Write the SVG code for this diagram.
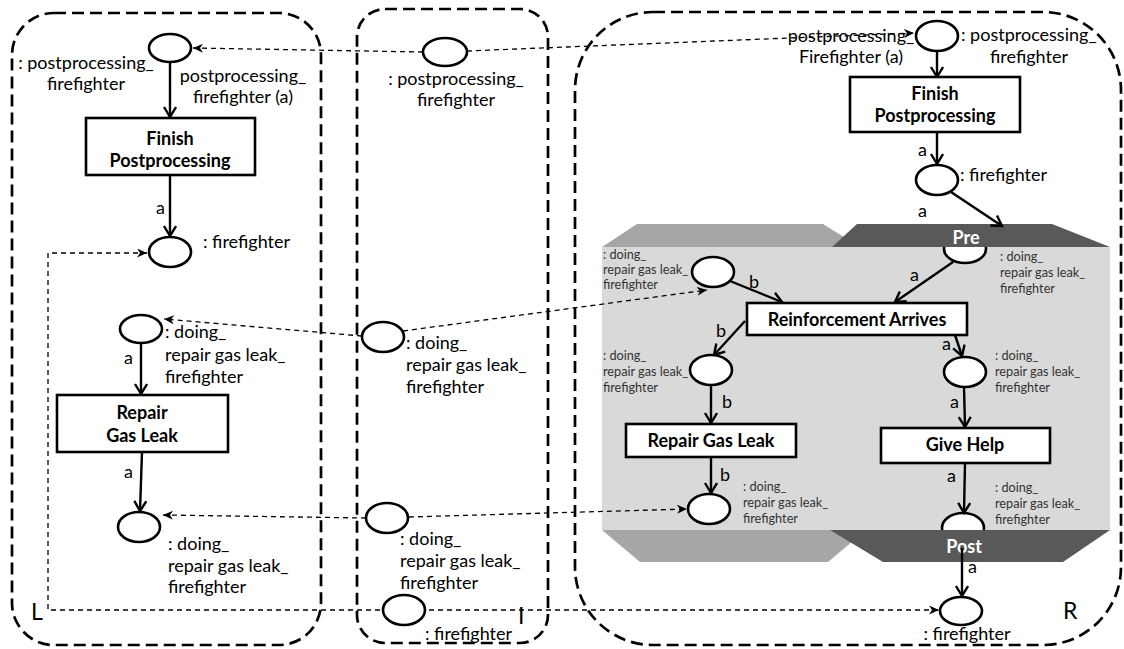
<svg xmlns="http://www.w3.org/2000/svg" width="1124" height="649" viewBox="0 0 1124 649">
<defs>
<marker id="ah" markerUnits="userSpaceOnUse" markerWidth="16" markerHeight="16" refX="11" refY="7" orient="auto">
<path d="M1,1 L11,7 L1,13" fill="none" stroke="#000" stroke-width="2.4"/>
</marker>
<marker id="dh" markerUnits="userSpaceOnUse" markerWidth="12" markerHeight="12" refX="10" refY="4.5" orient="auto-start-reverse">
<path d="M0,0 L10,4.5 L0,9 L3,4.5 z" fill="#000"/>
</marker>
<style>
.panel{fill:none;stroke:#000;stroke-width:2.7;stroke-dasharray:12 6}
.place{fill:#fff;stroke:#000;stroke-width:2.6}
.trans{fill:#fff;stroke:#000;stroke-width:2.6}
.arc{fill:none;stroke:#000;stroke-width:2.4;marker-end:url(#ah)}
.dash{fill:none;stroke:#000;stroke-width:1.3;stroke-dasharray:5 4}
.dash-end{marker-end:url(#dh)}
text{font-family:Lato,Carlito,"Liberation Sans",sans-serif;font-size:18px;fill:#000}
.c{text-anchor:middle}
.b{font-weight:bold}
.s{font-size:12.7px;fill:#333}
.big{font-size:23px}
.w{fill:#fff;font-weight:bold}
</style>
</defs>

<g id="panels">
<rect class="panel" x="12" y="13" width="309" height="632" rx="42"/>
<rect class="panel" x="357" y="9" width="191" height="634" rx="28"/>
<rect class="panel" x="575" y="12" width="546" height="633" rx="78"/>
</g>

<g id="rule-region">
<rect x="602" y="247" width="508" height="283" fill="#d9d9d9"/>
<polygon points="602,247 637,224 823,224 860,247" fill="#a6a6a6"/>
<polygon points="602,530 866,530 828,562 640,562" fill="#a6a6a6"/>
</g>

<g id="r-pre-place"><ellipse class="place" cx="965" cy="249" rx="21" ry="14"/></g>
<g id="r-post-place"><ellipse class="place" cx="963" cy="528" rx="21" ry="15"/></g>

<g id="pre-post-bands">
<polygon points="832,247 857,224 1052,224 1110,247" fill="#595959"/>
<text class="w c" x="966" y="244">Pre</text>
<polygon points="830,530 1110,530 1063,562 883,562" fill="#595959"/>
<text class="w c" x="964" y="553">Post</text>
</g>

<g id="connectors">
<path class="arc" d="M170,62 L170,117"/>
<path class="arc" d="M170,175 L170,236"/>
<path class="arc" d="M141,343 L141,394"/>
<path class="arc" d="M142,452 L140,511"/>
<path class="arc" d="M937,51 L937,77"/>
<path class="arc" d="M937,132 L937,164"/>
<path class="arc" d="M951,192 L1002,226"/>
<path class="arc" d="M953,262 L895,302"/>
<path class="arc" d="M730,281 L782,302"/>
<path class="arc" d="M745,321 L714,355"/>
<path class="arc" d="M711,385 L711,423"/>
<path class="arc" d="M711,457 L711,493"/>
<path class="arc" d="M955,335 L962,356"/>
<path class="arc" d="M964,387 L965,427"/>
<path class="arc" d="M965,463 L964,513"/>
<path class="arc" d="M962,548 L962,596"/>
<path class="dash dash-end" d="M423,52 L193,48"/>
<path class="dash dash-end" d="M467,51 L914,33"/>
<path class="dash dash-end" d="M362,336 L164,319"/>
<path class="dash dash-end" d="M403,331 L707,290"/>
<path class="dash dash-end" d="M366,518 L163,515"/>
<path class="dash dash-end" d="M409,517 L687,509"/>
<path class="dash" d="M147,253 L48,253 L48,610 L939,610" marker-start="url(#dh)" marker-end="url(#dh)"/>
</g>

<g id="L-p-postproc">
<ellipse class="place" cx="170" cy="48" rx="21" ry="14"/>
<text class="c" x="86" y="69">: postprocessing_</text>
<text class="c" x="86" y="90">firefighter</text>
<text class="c" x="243" y="82">postprocessing_</text>
<text class="c" x="243" y="103">firefighter (a)</text>
</g>
<g id="L-t-finish">
<rect class="trans" x="86" y="118" width="169" height="57"/>
<text class="c b" x="170" y="145">Finish</text>
<text class="c b" x="170" y="167">Postprocessing</text>
<text x="156" y="214">a</text>
</g>
<g id="L-p-firefighter">
<ellipse class="place" cx="170" cy="252" rx="21" ry="15"/>
<text x="203" y="248">: firefighter</text>
</g>
<g id="L-p-doing1">
<ellipse class="place" cx="141" cy="329" rx="21" ry="14"/>
<text x="165" y="338">: doing_</text>
<text x="165" y="361">repair gas leak_</text>
<text x="165" y="383">firefighter</text>
<text x="124" y="364">a</text>
</g>
<g id="L-t-repair">
<rect class="trans" x="57" y="395" width="171" height="57"/>
<text class="c b" x="142" y="419">Repair</text>
<text class="c b" x="142" y="442">Gas Leak</text>
<text x="124" y="478">a</text>
</g>
<g id="L-p-doing2">
<ellipse class="place" cx="139" cy="527" rx="21" ry="15"/>
<text x="168" y="550">: doing_</text>
<text x="168" y="572">repair gas leak_</text>
<text x="168" y="593">firefighter</text>
</g>
<text class="big" x="31" y="620">L</text>

<g id="I-p-postproc">
<ellipse class="place" cx="445" cy="52" rx="22" ry="14"/>
<text class="c" x="456" y="85">: postprocessing_</text>
<text class="c" x="456" y="106">firefighter</text>
</g>
<g id="I-p-doing1">
<ellipse class="place" cx="383" cy="337" rx="21" ry="15"/>
<text x="406" y="349">: doing_</text>
<text x="406" y="371">repair gas leak_</text>
<text x="406" y="393">firefighter</text>
</g>
<g id="I-p-doing2">
<ellipse class="place" cx="387" cy="518" rx="21" ry="15"/>
<text x="400" y="545">: doing_</text>
<text x="400" y="567">repair gas leak_</text>
<text x="400" y="589">firefighter</text>
</g>
<g id="I-p-firefighter">
<ellipse class="place" cx="404" cy="610" rx="21" ry="15"/>
<text x="425" y="640">: firefighter</text>
</g>
<text class="big" x="518" y="624">I</text>

<g id="R-p-postproc">
<ellipse class="place" cx="937" cy="36" rx="21" ry="15"/>
<text class="c" x="851" y="42">postprocessing_</text>
<text class="c" x="851" y="63">Firefighter (a)</text>
<text x="961" y="41">: postprocessing_</text>
<text class="c" x="1029" y="63">firefighter</text>
</g>
<g id="R-t-finish">
<rect class="trans" x="850" y="77" width="170" height="55"/>
<text class="c b" x="935" y="100">Finish</text>
<text class="c b" x="935" y="122">Postprocessing</text>
<text x="918" y="156">a</text>
</g>
<g id="R-p-firefighter">
<ellipse class="place" cx="937" cy="180" rx="21" ry="15"/>
<text x="960" y="181">: firefighter</text>
<text x="918" y="217">a</text>
</g>
<g id="R-pre-labels">
<text class="s" x="1000" y="261">: doing_</text>
<text class="s" x="1000" y="277">repair gas leak_</text>
<text class="s" x="1000" y="293">firefighter</text>
<text x="910" y="281">a</text>
</g>
<g id="R-p-doing-in">
<ellipse class="place" cx="713" cy="272" rx="21" ry="15"/>
<text class="s" x="603" y="259">: doing_</text>
<text class="s" x="603" y="274">repair gas leak_</text>
<text class="s" x="603" y="289">firefighter</text>
<text x="749" y="288">b</text>
</g>
<g id="R-t-reinforcement">
<rect class="trans" x="747" y="303" width="220" height="32"/>
<text class="c b" x="857" y="326">Reinforcement Arrives</text>
<text x="716" y="337">b</text>
<text x="942" y="350">a</text>
</g>
<g id="R-p-doing-mid">
<ellipse class="place" cx="711" cy="370" rx="21" ry="15"/>
<text class="s" x="603" y="360">: doing_</text>
<text class="s" x="603" y="376">repair gas leak_</text>
<text class="s" x="603" y="392">firefighter</text>
<text x="722" y="408">b</text>
</g>
<g id="R-p-help-mid">
<ellipse class="place" cx="965" cy="372" rx="21" ry="15"/>
<text class="s" x="995" y="360">: doing_</text>
<text class="s" x="995" y="376">repair gas leak_</text>
<text class="s" x="995" y="392">firefighter</text>
<text x="950" y="408">a</text>
</g>
<g id="R-t-repair">
<rect class="trans" x="626" y="424" width="170" height="33"/>
<text class="c b" x="711" y="447">Repair Gas Leak</text>
<text x="720" y="481">b</text>
</g>
<g id="R-t-help">
<rect class="trans" x="881" y="428" width="169" height="35"/>
<text class="c b" x="965" y="451">Give Help</text>
<text x="947" y="482">a</text>
</g>
<g id="R-p-doing-out">
<ellipse class="place" cx="709" cy="509" rx="21" ry="15"/>
<text class="s" x="743" y="491">: doing_</text>
<text class="s" x="743" y="507">repair gas leak_</text>
<text class="s" x="743" y="523">firefighter</text>
</g>
<g id="R-post-labels">
<text class="s" x="995" y="492">: doing_</text>
<text class="s" x="995" y="508">repair gas leak_</text>
<text class="s" x="995" y="524">firefighter</text>
<text x="968" y="573">a</text>
</g>
<g id="R-p-firefighter-out">
<ellipse class="place" cx="961" cy="611" rx="21" ry="14"/>
<text class="c" x="967" y="640">: firefighter</text>
</g>
<text class="big" x="1063" y="619">R</text>
</svg>
